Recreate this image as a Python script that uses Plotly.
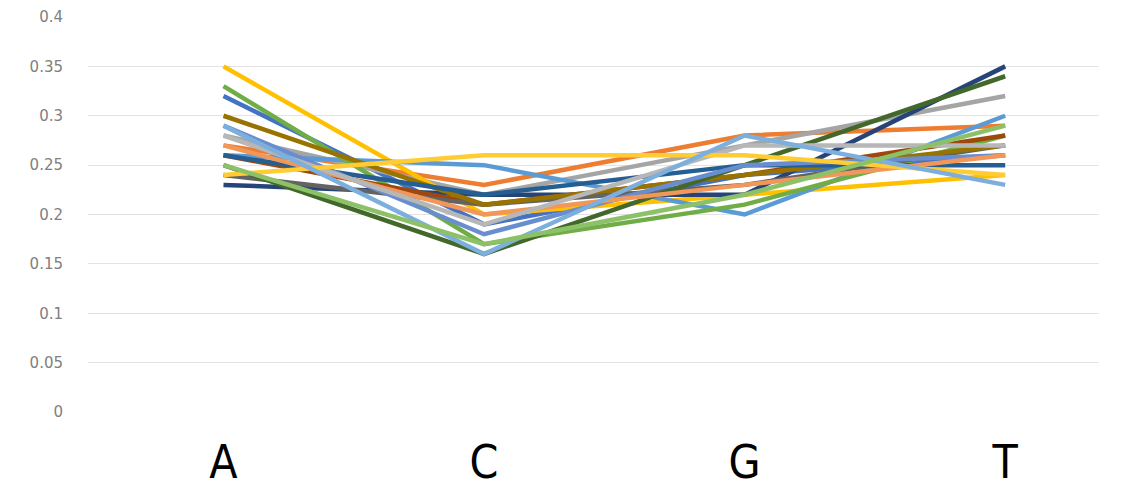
import plotly.graph_objects as go

bases = ["A", "C", "G", "T"]

# Per-position base frequencies, one list per sequence group
s01 = [0.32, 0.19, 0.24, 0.26]
s02 = [0.27, 0.23, 0.28, 0.29]
s03 = [0.28, 0.22, 0.27, 0.32]
s04 = [0.35, 0.20, 0.22, 0.24]
s05 = [0.26, 0.25, 0.20, 0.30]
s06 = [0.33, 0.17, 0.21, 0.28]
s07 = [0.23, 0.22, 0.22, 0.35]
s08 = [0.26, 0.21, 0.24, 0.28]
s09 = [0.24, 0.21, 0.23, 0.27]
s10 = [0.30, 0.21, 0.24, 0.27]
s11 = [0.26, 0.22, 0.25, 0.25]
s12 = [0.25, 0.16, 0.25, 0.34]
s13 = [0.29, 0.18, 0.25, 0.26]
s14 = [0.27, 0.20, 0.23, 0.26]
s15 = [0.28, 0.19, 0.27, 0.27]
s16 = [0.24, 0.26, 0.26, 0.24]
s17 = [0.29, 0.16, 0.28, 0.23]
s18 = [0.25, 0.17, 0.22, 0.29]

series = [s01, s02, s03, s04, s05, s06, s07, s08, s09,
          s10, s11, s12, s13, s14, s15, s16, s17, s18]

palette = ["#4472C4", "#ED7D31", "#A5A5A5", "#FFC000", "#5B9BD5", "#70AD47",
           "#264478", "#9E480E", "#636363", "#997300", "#255E91", "#43682B",
           "#698ED0", "#F1975A", "#B7B7B7", "#FFCD33", "#7CAFDD", "#8CC168"]

y_ticks = [0, 0.05, 0.1, 0.15, 0.2, 0.25, 0.3, 0.35, 0.4]
y_tick_text = ["0", "0.05", "0.1", "0.15", "0.2", "0.25", "0.3", "0.35", "0.4"]

fig = go.Figure()
for vals, col in zip(series, palette):
    fig.add_trace(go.Scatter(
        x=list(range(len(bases))), y=vals, mode="lines",
        line=dict(color=col, width=4.5), showlegend=False,
        hoverinfo="skip",
    ))

fig.update_layout(
    width=1134, height=490,
    margin=dict(l=88, r=35, t=17, b=78),
    paper_bgcolor="white", plot_bgcolor="white",
    xaxis=dict(
        range=[-0.52, 3.36],
        tickmode="array", tickvals=list(range(len(bases))), ticktext=bases,
        showgrid=False, zeroline=False, showline=False,
        tickfont=dict(family="DejaVu Sans Condensed, Liberation Sans Narrow, Arial", size=46, color="black"),
        ticklabelstandoff=19, automargin=False,
    ),
    yaxis=dict(
        range=[0, 0.4],
        tickmode="array", tickvals=y_ticks, ticktext=y_tick_text,
        showgrid=True, gridcolor="#E3E3E3", gridwidth=1,
        zeroline=False, showline=False,
        tickfont=dict(family="DejaVu Sans, Verdana, sans-serif", size=15, color="#808080"),
        ticklabelstandoff=24, automargin=False,
    ),
)

fig.write_html("out.html")
